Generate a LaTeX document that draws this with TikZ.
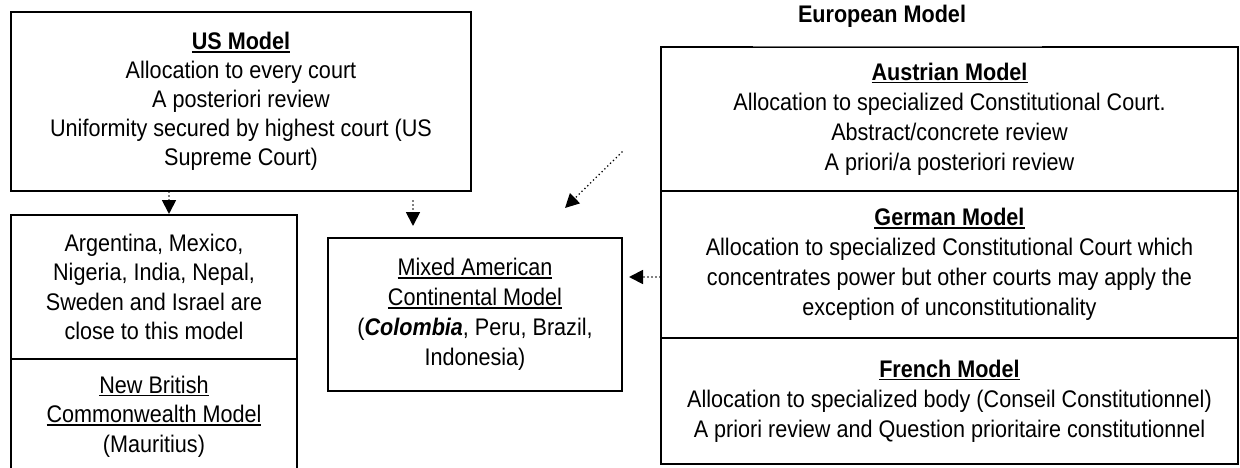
\documentclass[tikz,border=0pt]{standalone}
\usepackage{fontspec}
\setmainfont{Liberation Sans}[FakeStretch=0.9]
\usetikzlibrary{arrows.meta}
% underline drawn as a rule just below the baseline
\newcommand{\titleul}[1]{\setbox0\hbox{#1}\rlap{\rule[-2.8pt]{\wd0}{1.5pt}}\box0}
\begin{document}
\begin{tikzpicture}[x=1pt,y=-1pt,
  txt/.style={align=center, inner sep=0pt, font=\fontsize{24}{30}\selectfont},
  box/.style={txt, draw, line width=2pt},
  arr/.style={line width=1.8pt, dash pattern=on 0pt off 4pt, line cap=round,
    -{Triangle[length=14pt,width=14pt]}},
  edge/.style={line width=2pt}]
\useasboundingbox (0,0) rectangle (1240,468);

% American side
\node[box, font=\fontsize{24}{29}\selectfont, minimum width=460pt, minimum height=179pt] (us) at (241,101.5)
  {\titleul{\textbf{US Model}}\\Allocation to every court\\A posteriori review\\
   Uniformity secured by highest court (US\\Supreme Court)};
\node[box, font=\fontsize{24}{29.5}\selectfont, minimum width=286pt, minimum height=144pt] (arg) at (154,287)
  {Argentina, Mexico,\\Nigeria, India, Nepal,\\Sweden and Israel are\\close to this model};
\node[txt, font=\fontsize{24}{29.5}\selectfont, minimum width=286pt, minimum height=115pt] (brit) at (154,416.5)
  {\titleul{New British}\\\titleul{Commonwealth Model}\\(Mauritius)};
\draw[edge] (brit.south west) -- (brit.north west) -- (brit.north east) -- (brit.south east);

\node[box, minimum width=294pt, minimum height=153pt] (mixed) at (475,314.5)
  {\titleul{Mixed American}\\\titleul{Continental Model}\\
   (\textbf{\textit{Colombia}}, Peru, Brazil,\\Indonesia)};

% European side
\node[txt, font=\fontsize{24}{30}\selectfont\bfseries] (eur) at (882,16) {European Model};
\node[box, minimum width=577pt, minimum height=144pt] (aus) at (949.5,119)
  {\titleul{\textbf{Austrian Model}}\\Allocation to specialized Constitutional Court.\\
   Abstract/concrete review\\A priori/a posteriori review};
\coordinate (g1) at (753,0);
\coordinate (g2) at (1042,0);
\draw[white, line width=3pt] (aus.north -| g1) -- (aus.north -| g2);
\draw[black!55, line width=0.9pt] (aus.north -| g1) -- (aus.north -| g2);

\node[box, minimum width=577pt, minimum height=147pt] (ger) at (949.5,264.5)
  {\titleul{\textbf{German Model}}\\Allocation to specialized Constitutional Court which\\
   concentrates power but other courts may apply the\\exception of unconstitutionality};
\node[box, minimum width=577pt, minimum height=126pt] (fre) at (949.5,401)
  {\titleul{\textbf{French Model}}\\Allocation to specialized body (Conseil Constitutionnel)\\
   A priori review and Question prioritaire constitutionnel};

% connectors
\coordinate (xa) at (169,0);
\coordinate (xm) at (413,0);
\coordinate (ym) at (0,277);
\coordinate (dgA) at (622,152);
\coordinate (dgB) at (565,208);
\draw[arr] (us.south -| xa) -- (arg.north -| xa);
\draw[arr, shorten <=9pt, shorten >=11pt] (us.south -| xm) -- (mixed.north -| xm);
\draw[arr, shorten >=6pt] (ger.west |- ym) -- (mixed.east |- ym);
\draw[arr] (dgA) -- (dgB);
\end{tikzpicture}
\end{document}
